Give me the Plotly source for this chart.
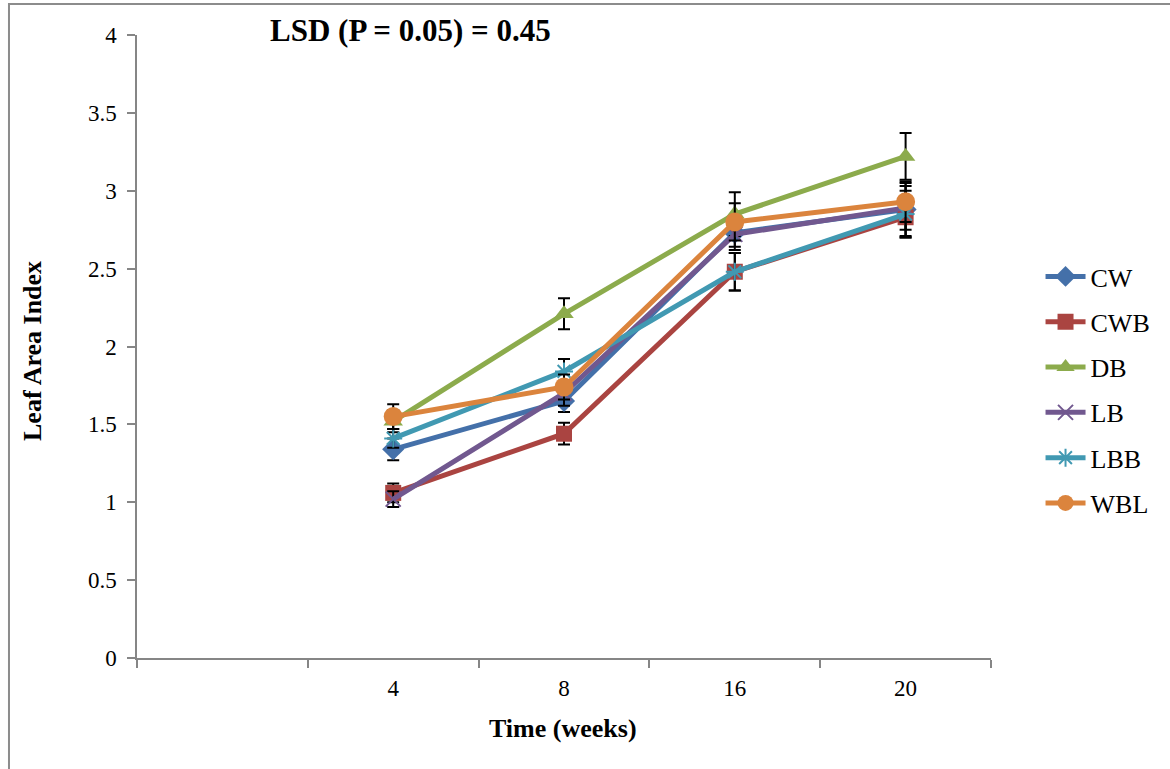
import plotly.graph_objects as go

# ---- data ----
weeks = ["4", "8", "16", "20"]
x_categories = [" ", "4", "8", "16", "20"]
y_ticks = [0, 0.5, 1, 1.5, 2, 2.5, 3, 3.5, 4]
y_ticktext = ["0", "0.5", "1", "1.5", "2", "2.5", "3", "3.5", "4"]

cw = [1.34, 1.65, 2.73, 2.88]
cw_err = [0.07, 0.07, 0.09, 0.17]
cwb = [1.06, 1.44, 2.48, 2.83]
cwb_err = [0.06, 0.07, 0.12, 0.13]
db = [1.52, 2.21, 2.85, 3.22]
db_err = [0.07, 0.10, 0.14, 0.15]
lb = [1.02, 1.70, 2.72, 2.89]
lb_err = [0.05, 0.08, 0.10, 0.14]
lbb = [1.41, 1.84, 2.48, 2.85]
lbb_err = [0.06, 0.08, 0.12, 0.15]
wbl = [1.55, 1.74, 2.80, 2.93]
wbl_err = [0.08, 0.08, 0.12, 0.13]

series = [
    ("CW", cw, cw_err, "#4470A9", "diamond", 17),
    ("CWB", cwb, cwb_err, "#AA4441", "square", 16),
    ("DB", db, db_err, "#8CAB4C", "triangle-up", 17),
    ("LB", lb, lb_err, "#71588F", "x-thin-open", 15),
    ("LBB", lbb, lbb_err, "#4199B2", "asterisk-open", 15),
    ("WBL", wbl, wbl_err, "#DB843D", "circle", 19),
]

FONT = "Liberation Serif, Times New Roman, serif"

fig = go.Figure()
for i, (name, ys, errs, color, sym, size) in enumerate(series):
    open_marker = sym.endswith("open")
    fig.add_trace(go.Scatter(
        x=weeks, y=ys, name=name, mode="lines+markers",
        legendgroup=f"g{i}",
        line=dict(color=color, width=5),
        marker=dict(symbol=sym, size=size, color=color,
                    line=dict(color=color, width=2 if open_marker else 0)),
        error_y=dict(type="data", array=errs, visible=True,
                     color="black", thickness=2, width=6),
    ))

fig.update_layout(
    width=1170, height=769,
    margin=dict(l=137, r=179, t=35, b=111),
    paper_bgcolor="white", plot_bgcolor="white",
    font=dict(family=FONT, color="black"),
    showlegend=True,
    legend=dict(x=1.058, y=0.65, xanchor="left", yanchor="top",
                font=dict(family=FONT, size=26, color="black"),
                tracegroupgap=8.5, bgcolor="rgba(0,0,0,0)",
                itemwidth=40),
    xaxis=dict(
        type="category", categoryorder="array", categoryarray=x_categories,
        range=[-0.5, 4.5], tickson="boundaries",
        ticks="outside", ticklen=8, tickcolor="#868686", tickwidth=1.5,
        showline=True, linecolor="#868686", linewidth=1.5,
        showgrid=False, zeroline=False,
        tickfont=dict(family=FONT, size=23, color="black"),
        ticklabelstandoff=9,
    ),
    yaxis=dict(
        range=[0, 4], tickvals=y_ticks, ticktext=y_ticktext,
        ticks="outside", ticklen=8, tickcolor="#868686", tickwidth=1.5,
        showline=True, linecolor="#868686", linewidth=1.5,
        showgrid=False, zeroline=False,
        tickfont=dict(family=FONT, size=23, color="black"),
        ticklabelstandoff=6,
    ),
    annotations=[
        dict(text="<b>LSD (P = 0.05) = 0.45</b>", xref="paper", yref="paper",
             x=0.3208, y=1.008, xanchor="center", yanchor="middle",
             showarrow=False, font=dict(family=FONT, size=31, color="black")),
        dict(text="<b>Leaf Area Index</b>", xref="paper", yref="paper",
             x=-0.1218, y=0.4928, xanchor="center", yanchor="middle",
             textangle=-90, showarrow=False,
             font=dict(family=FONT, size=26, color="black")),
        dict(text="<b>Time (weeks)</b>", xref="paper", yref="paper",
             x=0.4988, y=-0.1124, xanchor="center", yanchor="middle",
             showarrow=False, font=dict(family=FONT, size=26, color="black")),
    ],
    shapes=[
        dict(type="rect", xref="paper", yref="paper",
             x0=-0.1499, y0=-0.2, x1=1.25, y1=1.0498,
             line=dict(color="#8C8C8C", width=2), fillcolor="rgba(0,0,0,0)",
             layer="below"),
    ],
)

fig.write_html("out.html")
